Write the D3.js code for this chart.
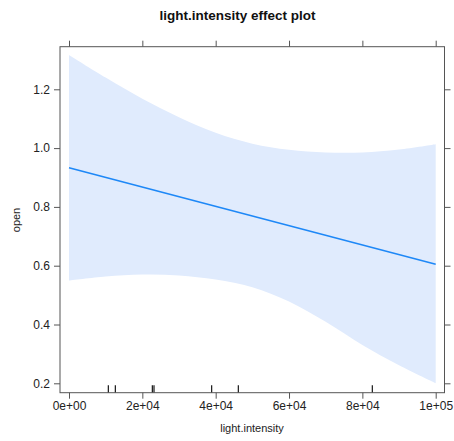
<!DOCTYPE html>
<html><head><meta charset="utf-8">
<script src="https://cdn.jsdelivr.net/npm/d3@7"></script>
<style>body{margin:0;background:#fff;} text{font-family:"Liberation Sans",Arial,sans-serif;}</style>
</head><body>
<svg id="c" width="454" height="441"></svg>
<script>
const xTicks = [0, 20000, 40000, 60000, 80000, 100000];
const xTickLabels = ["0e+00","2e+04","4e+04","6e+04","8e+04","1e+05"];
const yTicks = [0.2, 0.4, 0.6, 0.8, 1.0, 1.2];
const bandX = [0,10000,20000,30000,40000,50000,60000,70000,80000,90000,100000];
const bandUpper = [1.317,1.240,1.168,1.105,1.052,1.015,0.994,0.985,0.985,0.995,1.013];
const bandLower = [0.549,0.563,0.570,0.567,0.553,0.527,0.478,0.409,0.330,0.261,0.200];
const fitX = [0, 100000];
const fitY = [0.933, 0.605];
const rugX = [10720,12630,22720,23180,38910,46170,82710];

const svg = d3.select("#c");
const L=60, R=444.5, T=46.7, B=392.7;
const x = d3.scaleLinear().domain([0,100000]).range([69,435.7]);
const y = d3.scaleLinear().domain([0.2,1.2]).range([383.3,89.3]);
const axisCol = "#555";

// band
const area = d3.area().x((d,i)=>x(bandX[i])).y0((d,i)=>y(bandLower[i])).y1((d,i)=>y(bandUpper[i])).curve(d3.curveCatmullRom);
svg.append("path").attr("d", area(bandX)).attr("fill","rgb(224,235,253)");
// fit line
svg.append("path").attr("d", d3.line().x((d,i)=>x(fitX[i])).y((d,i)=>y(fitY[i]))(fitX))
  .attr("stroke","#1e88f7").attr("stroke-width",1.6).attr("fill","none");
// rug
svg.selectAll(".rug").data(rugX).enter().append("line")
  .attr("x1",d=>x(d)).attr("x2",d=>x(d)).attr("y1",B-7.5).attr("y2",B)
  .attr("stroke","#000").attr("stroke-width",1.1);
// frame
svg.append("rect").attr("x",L).attr("y",T).attr("width",R-L).attr("height",B-T)
  .attr("fill","none").attr("stroke",axisCol).attr("stroke-width",1);
// x ticks top/bottom
const xb = d3.axisBottom(x).tickValues(xTicks).tickFormat((d,i)=>xTickLabels[i]).tickSize(6).tickPadding(3);
const gxb = svg.append("g").attr("transform",`translate(0,${B})`).call(xb);
const xt = d3.axisTop(x).tickValues(xTicks).tickFormat("").tickSize(6);
const gxt = svg.append("g").attr("transform",`translate(0,${T})`).call(xt);
const yl = d3.axisLeft(y).tickValues(yTicks).tickFormat(d3.format(".1f")).tickSize(6).tickPadding(4);
const gyl = svg.append("g").attr("transform",`translate(${L},0)`).call(yl);
const yr = d3.axisRight(y).tickValues(yTicks).tickFormat("").tickSize(6);
const gyr = svg.append("g").attr("transform",`translate(${R},0)`).call(yr);
[gxb,gxt,gyl,gyr].forEach(g=>{
  g.select(".domain").remove();
  g.selectAll(".tick line").attr("stroke",axisCol);
  g.selectAll(".tick text").attr("fill","#222").style("font-size","12px").style("font-family","'Liberation Sans',Arial,sans-serif");
});
// titles
svg.append("text").attr("x",237.5).attr("y",20).attr("text-anchor","middle")
  .style("font-size","13.5px").style("font-weight","bold").attr("fill","#111").text("light.intensity effect plot");
svg.append("text").attr("x",252).attr("y",432).attr("text-anchor","middle")
  .style("font-size","11px").attr("fill","#222").text("light.intensity");
svg.append("text").attr("transform","translate(20,220) rotate(-90)").attr("text-anchor","middle")
  .style("font-size","11px").attr("fill","#222").text("open");
</script>
</body></html>
